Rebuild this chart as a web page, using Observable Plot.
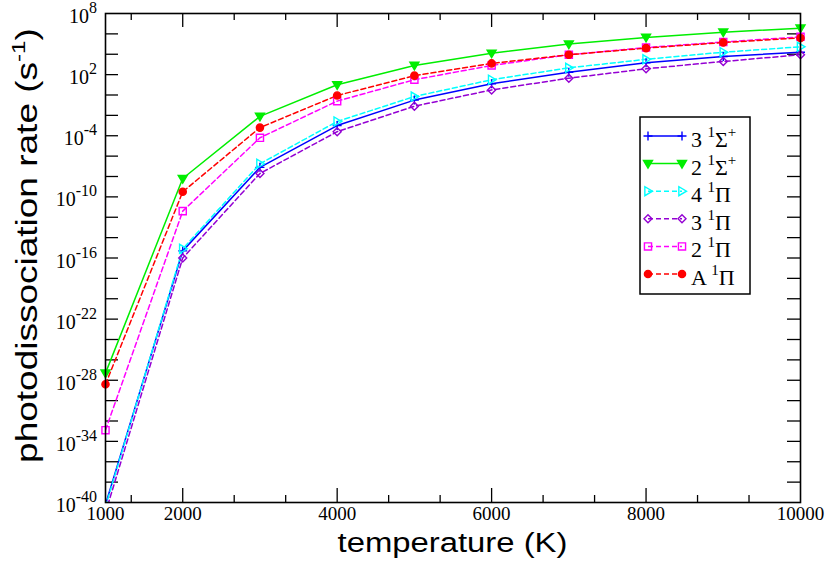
<!DOCTYPE html>
<html><head><meta charset="utf-8">
<script src="https://cdn.jsdelivr.net/npm/d3@7"></script>
<script src="https://cdn.jsdelivr.net/npm/@observablehq/plot@0.6"></script>
<style>body{margin:0;background:#fff;} svg{display:block}</style>
</head><body><div id="chart"></div>
<script>
// ---------- data ----------
const temperatures = [1000, 2000, 3000, 4000, 5000, 6000, 7000, 8000, 9000, 10000];
// log10 of photodissociation rate (s^-1)
const log3Sigma = [-40.2, -15.3, -7.1, -3.0, -0.5, 1.1, 2.24, 3.16, 3.78, 4.2];
const log2Sigma = [-27.3, -8.2, -2.1, 1.0, 2.9, 4.1, 5.0, 5.65, 6.17, 6.56];
const log4Pi    = [-40.4, -15.1, -6.75, -2.6, -0.15, 1.5, 2.67, 3.5, 4.2, 4.73];
const log3Pi    = [-41.0, -16.0, -7.7, -3.6, -1.1, 0.5, 1.65, 2.57, 3.29, 3.95];
const log2Pi    = [-32.9, -11.4, -4.2, -0.6, 1.5, 2.9, 3.95, 4.66, 5.2, 5.71];
const logA1Pi   = [-28.4, -9.5, -3.2, -0.05, 1.9, 3.1, 3.95, 4.6, 5.15, 5.6];
const seriesPrefix = ["3", "2", "4", "3", "2", "A"];
const seriesTerm   = ["Σ", "Σ", "Π", "Π", "Π", "Π"];
const seriesParity = ["+", "+", "", "", "", ""];
const xTickLabels = [1000, 2000, 4000, 6000, 8000, 10000];
const yLabelExponents = [-40, -34, -28, -22, -16, -10, -4, 2, 8];
const xTitle = "temperature (K)";
const yTitle = "photodissociation rate (s";
const yTitleSup = "-1";

// ---------- layout ----------
const W = 830, H = 565;
const mL = 105, mR = 30, mT = 13, mB = 63;
const iw = W - mL - mR, ih = H - mT - mB;
const serif = "'Liberation Serif','Times New Roman',serif";
const sans = "'Liberation Sans',Arial,Helvetica,sans-serif";

// custom marker shapes
const R = s => Math.sqrt(s / Math.PI);
const plusSym = {draw(c, s) { const r = R(s); c.moveTo(-r, 0); c.lineTo(r, 0); c.moveTo(0, -r); c.lineTo(0, r); }};
const triDownSym = {draw(c, s) { const r = R(s); c.moveTo(-r, -0.7 * r); c.lineTo(r, -0.7 * r); c.lineTo(0, r); c.closePath(); }};
const triRightSym = {draw(c, s) { const r = R(s); c.moveTo(-0.7 * r, -r); c.lineTo(-0.7 * r, r); c.lineTo(r, 0); c.closePath(); }};
const diamondSym = {draw(c, s) { const r = R(s); c.moveTo(0, -r); c.lineTo(r, 0); c.lineTo(0, r); c.lineTo(-r, 0); c.closePath(); }};
const squareSym = {draw(c, s) { const r = R(s) * 0.85; c.rect(-r, -r, 2 * r, 2 * r); }};
const circleSym = {draw(c, s) { const r = R(s); c.moveTo(r, 0); c.arc(0, 0, r, 0, 2 * Math.PI); }};

const styles = [
  {values: log3Sigma, color: "#0000ff", dash: null, sym: plusSym,     r: 4.5, fill: "none"},
  {values: log2Sigma, color: "#00ee00", dash: null, sym: triDownSym,  r: 4.5, fill: "#00ee00"},
  {values: log4Pi,    color: "#00ffff", dash: "5,3", sym: triRightSym, r: 4.5, fill: "none"},
  {values: log3Pi,    color: "#9400d3", dash: "5,3", sym: diamondSym,  r: 4,   fill: "none"},
  {values: log2Pi,    color: "#ff00ff", dash: "5,3", sym: squareSym,   r: 4.2, fill: "none"},
  {values: logA1Pi,   color: "#ff0000", dash: "5,3", sym: circleSym,   r: 3.6, fill: "#ff0000"}
];

const yMin = 1e-40, yMax = 1e8;
const tables = styles.map((s, k) => temperatures.map((t, i) => ({T: t, rate: 10 ** s.values[i], k})));

// tick positions (grace-like: majors every 2000 K, minors every 2000/3 K; y every 2 decades)
const xMajor = [2000, 4000, 6000, 8000];
const xMinor = d3.range(1, 15).map(i => i * 2000 / 3).filter(v => v > 1000 && v < 10000 && Math.abs(v / 2000 - Math.round(v / 2000)) > 1e-6);
const yTicks = d3.range(-38, 8, 2).map(e => 10 ** e);

const marks = [
  Plot.tickX(xMajor, {x: d => d, insetTop: ih - 14, stroke: "black", strokeWidth: 1.3}),
  Plot.tickX(xMajor, {x: d => d, insetBottom: ih - 14, stroke: "black", strokeWidth: 1.3}),
  Plot.tickX(xMinor, {x: d => d, insetTop: ih - 7, stroke: "black", strokeWidth: 1.3}),
  Plot.tickX(xMinor, {x: d => d, insetBottom: ih - 7, stroke: "black", strokeWidth: 1.3}),
  Plot.tickY(yTicks, {y: d => d, insetRight: iw - 13, stroke: "black", strokeWidth: 1.3}),
  Plot.tickY(yTicks, {y: d => d, insetLeft: iw - 13, stroke: "black", strokeWidth: 1.3})
];
styles.forEach((s, k) => {
  marks.push(Plot.line(tables[k], {x: "T", y: "rate", stroke: s.color, strokeWidth: 1.5, strokeDasharray: s.dash, clip: true}));
});
styles.forEach((s, k) => {
  marks.push(Plot.dot(tables[k].filter(d => d.rate >= yMin), {x: "T", y: "rate", symbol: s.sym, r: s.r, stroke: s.color, fill: s.fill, strokeWidth: 1.4}));
});
marks.push(Plot.frame({stroke: "black", strokeWidth: 1.6}));
marks.push(Plot.text(xTickLabels, {x: d => d, text: d => String(d), frameAnchor: "bottom", dy: 17, fontSize: 19, fontFamily: serif, fill: "black"}));

const chart = Plot.plot({
  width: W, height: H,
  marginLeft: mL, marginRight: mR, marginTop: mT, marginBottom: mB,
  style: {background: "white", color: "black", overflow: "visible"},
  x: {domain: [1000, 10000], axis: null},
  y: {type: "log", domain: [yMin, yMax], axis: null},
  marks
});
document.getElementById("chart").appendChild(chart);

const svg = d3.select(chart);
const ys = chart.scale("y");

// y tick labels 10^n
const gl = svg.append("g").attr("font-family", serif).attr("fill", "black");
yLabelExponents.forEach(e => {
  const y = ys.apply(10 ** e);
  const t = gl.append("text").attr("x", mL - 8).attr("y", y + 10).attr("text-anchor", "end").attr("font-size", 20);
  t.append("tspan").text("10");
  t.append("tspan").attr("dy", -10).attr("font-size", 16).text(String(e));
});

// axis titles
const xt = svg.append("text").attr("font-family", sans).attr("font-size", 27).attr("fill", "black")
  .attr("text-anchor", "middle").text(xTitle);
const xs = 230 / xt.node().getComputedTextLength();
xt.attr("transform", `translate(${mL + iw / 2},552) scale(${xs},1)`);

const yt = svg.append("text").attr("font-family", sans).attr("font-size", 29).attr("fill", "black").attr("text-anchor", "middle");
yt.append("tspan").text(yTitle);
yt.append("tspan").attr("dy", -12).attr("font-size", 19).text(yTitleSup);
yt.append("tspan").attr("dy", 12).text(")");
const ysc = 435 / yt.node().getComputedTextLength();
yt.attr("transform", `translate(37,245.5) rotate(-90) scale(${ysc},1)`);

// legend
const lg = svg.append("g");
lg.append("rect").attr("x", 640).attr("y", 117).attr("width", 110).attr("height", 177)
  .attr("fill", "white").attr("stroke", "black").attr("stroke-width", 1.5);
styles.forEach((s, i) => {
  const y = 136 + i * 27.6;
  lg.append("line").attr("x1", 648).attr("x2", 682).attr("y1", y).attr("y2", y)
    .attr("stroke", s.color).attr("stroke-width", 1.5).attr("stroke-dasharray", s.dash);
  [648, 682].forEach(x => {
    const p = d3.path();
    s.sym.draw(p, Math.PI * s.r * s.r);
    lg.append("path").attr("d", p.toString()).attr("transform", `translate(${x},${y})`)
      .attr("stroke", s.color).attr("fill", s.fill).attr("stroke-width", 1.4);
  });
  const t = lg.append("text").attr("x", 691).attr("y", y + 11).attr("text-anchor", "start")
    .attr("font-family", serif).attr("font-size", 22).attr("fill", "black");
  t.append("tspan").text(seriesPrefix[i] + " ");
  t.append("tspan").attr("dy", -10).attr("font-size", 15).text("1");
  t.append("tspan").attr("dy", 10).text(seriesTerm[i]);
  if (seriesParity[i]) t.append("tspan").attr("dy", -10).attr("font-size", 15).text(seriesParity[i]);
});
</script>
</body></html>
